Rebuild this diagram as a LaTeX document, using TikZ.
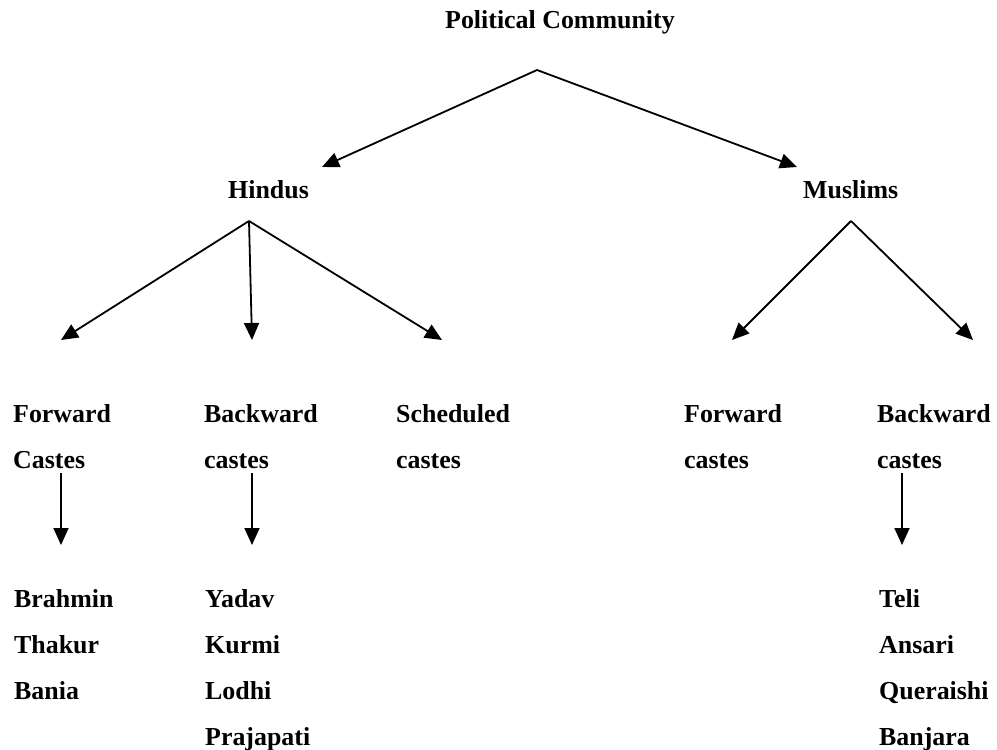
\documentclass[tikz,border=0pt]{standalone}
\usepackage{fontspec}
\setmainfont{Liberation Serif}
\usetikzlibrary{arrows.meta}
\begin{document}
\begin{tikzpicture}[x=1bp,y=-1bp,
  lbl/.style={anchor=base west,inner sep=0pt,font=\fontsize{26}{30}\selectfont\bfseries},
  arr/.style={line width=1.8bp,-{Triangle[length=17bp,width=15bp]}}]
\useasboundingbox (0,0) rectangle (997,750);
% level 0
\node[lbl] (pc) at (445,29) {Political Community};
\coordinate (pcfork) at (537,70);
\coordinate (hindtip) at (322,167);
\coordinate (mustip) at (797,167);
\draw[arr] (pcfork) -- (hindtip);
\draw[arr] (pcfork) -- (mustip);
% level 1
\node[lbl] (hindus) at (228,198) {Hindus};
\node[lbl] (muslims) at (803,198) {Muslims};
\coordinate (hfork) at (249,221);
\coordinate (mfork) at (851,221);
\coordinate (hftip) at (61,340);
\coordinate (hbtip) at (252,340);
\coordinate (hstip) at (442,340);
\coordinate (mftip) at (732,340);
\coordinate (mbtip) at (973,340);
\draw[arr] (hfork) -- (hftip);
\draw[arr] (hfork) -- (hbtip);
\draw[arr] (hfork) -- (hstip);
\draw[arr] (mfork) -- (mftip);
\draw[arr] (mfork) -- (mbtip);
% level 2
\node[lbl] (hf1) at (13,422) {Forward};
\node[lbl] (hf2) at (13,468) {Castes};
\node[lbl] (hb1) at (204,422) {Backward};
\node[lbl] (hb2) at (204,468) {castes};
\node[lbl] (hs1) at (396,422) {Scheduled};
\node[lbl] (hs2) at (396,468) {castes};
\node[lbl] (mf1) at (684,422) {Forward};
\node[lbl] (mf2) at (684,468) {castes};
\node[lbl] (mb1) at (877,422) {Backward};
\node[lbl] (mb2) at (877,468) {castes};
\coordinate (hfs) at (61,473);
\coordinate (hfe) at (61,545);
\coordinate (hbs) at (252,473);
\coordinate (hbe) at (252,545);
\coordinate (mbs) at (902,473);
\coordinate (mbe) at (902,545);
\draw[arr] (hfs) -- (hfe);
\draw[arr] (hbs) -- (hbe);
\draw[arr] (mbs) -- (mbe);
% level 3
\node[lbl] (brahmin) at (14,607) {Brahmin};
\node[lbl] (thakur) at (14,653) {Thakur};
\node[lbl] (bania) at (14,699) {Bania};
\node[lbl] (yadav) at (205,607) {Yadav};
\node[lbl] (kurmi) at (205,653) {Kurmi};
\node[lbl] (lodhi) at (205,699) {Lodhi};
\node[lbl] (prajapati) at (205,745) {Prajapati};
\node[lbl] (teli) at (879,607) {Teli};
\node[lbl] (ansari) at (879,653) {Ansari};
\node[lbl] (queraishi) at (879,699) {Queraishi};
\node[lbl] (banjara) at (879,745) {Banjara};
\end{tikzpicture}
\end{document}
